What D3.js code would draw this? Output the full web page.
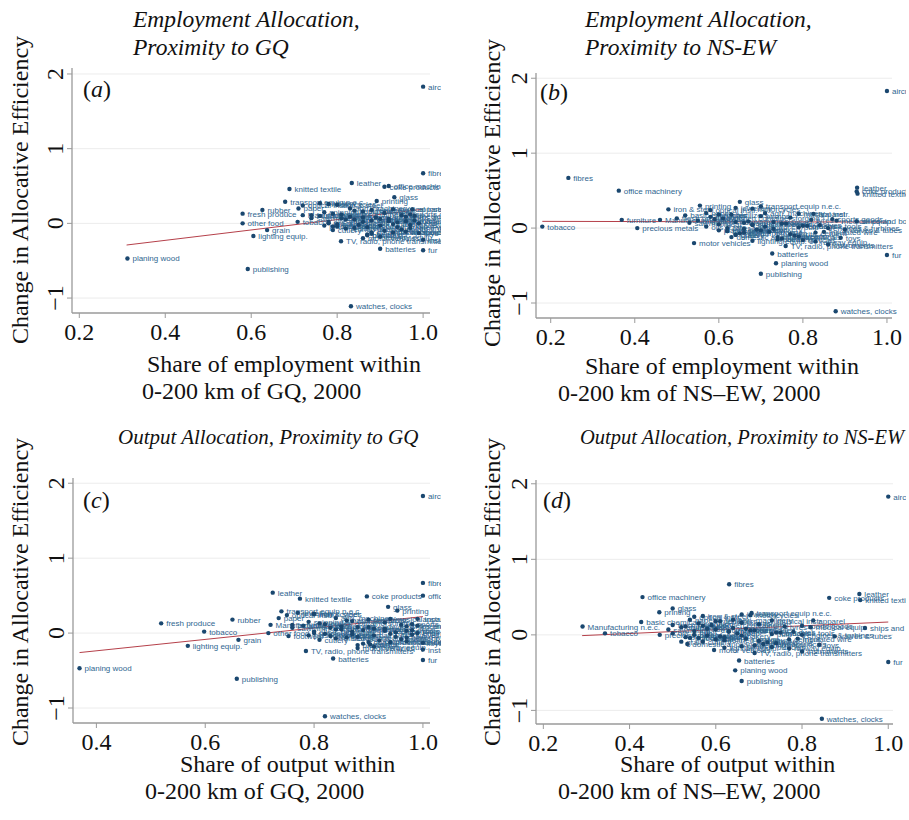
<!DOCTYPE html>
<meta charset="utf-8">
<script src="https://d3js.org/d3.v7.min.js"></script>
<style>
  body { margin: 0; background: #fff; }
  .tick-label { font-family: "Liberation Serif", "Times New Roman", serif; font-size: 24px; fill: #111; }
  .axis-title { font-family: "Liberation Serif", "Times New Roman", serif; font-size: 24px; fill: #111; }
  .panel-title { font-family: "Liberation Serif", "Times New Roman", serif; font-style: italic; fill: #111; }
  .pt-label { font-family: "Liberation Sans", Arial, sans-serif; font-size: 8px; fill: #2f6690; }
</style>
<div id="chart"></div>
<script>
// industries and the change in allocative efficiency (same y for all four panels)
const industries = [
  "aircraft", "fibres", "office machinery", "leather", "coke products", "knitted textile",
  "glass", "printing", "transport equip n.e.c.", "apparel", "fresh produce", "rubber",
  "other food", "grain", "lighting equip.", "planing wood", "publishing", "watches, clocks",
  "TV, radio, phone transmitters", "batteries", "fur", "tobacco", "iron & steel", "furniture",
  "Manufacturing n.e.c.", "precious metals", "motor vehicles", "ships and boats", "basic chemicals",
  "domestic appliances", "valves & tubes", "paints", "footwear", "instruments",
  "meat", "fish", "dairy", "oils & fats", "starch", "animal feed", "bakery", "sugar", "cocoa",
  "spirits", "beer", "soft drinks", "spinning", "weaving", "carpets", "cordage", "luggage",
  "sawmilling", "veneer", "wooden containers", "pulp", "paper", "refined petroleum", "dyes",
  "fertilizers", "plastics", "pesticides", "pharmaceuticals", "soap", "tyres", "plastic products",
  "ceramics", "cement", "structural metal", "forging", "cutlery", "engines & turbines", "pumps",
  "bearings", "machine tools", "agri. machinery", "weapons", "electric motors", "insulated wire",
  "medical equip.", "optical instr.", "bicycles", "motorcycles", "railway equip.", "sports goods",
  "toys", "jewellery", "musical instr."
];
const effChange = [
  1.83, 0.67, 0.50, 0.54, 0.49, 0.46, 0.35, 0.30, 0.29, 0.19, 0.13, 0.18,
  0.00, -0.09, -0.17, -0.47, -0.61, -1.11, -0.24, -0.34, -0.36, 0.02, 0.25, 0.11,
  0.11, 0.00, -0.20, 0.09, 0.17, -0.12, -0.02, -0.15, -0.04, -0.22,
  0.05, 0.08, -0.03, 0.02, -0.06, 0.10, -0.01, 0.04, 0.12,
  -0.08, 0.06, -0.04, 0.15, 0.09, -0.10, 0.03, -0.05,
  0.07, -0.02, 0.13, 0.01, 0.20, -0.07, 0.04,
  0.18, -0.01, 0.06, -0.12, 0.02, 0.11, -0.03,
  0.08, -0.06, 0.05, 0.14, -0.09, 0.00, 0.16,
  -0.14, 0.03, 0.20, -0.11, 0.07, -0.05,
  0.10, 0.24, -0.16, 0.26, -0.18, 0.12,
  -0.13, 0.27, 0.19
];
// share of employment within 0-200 km of GQ, 2000
const empShareGQ = [
  1.00, 1.00, 0.92, 0.834, 0.91, 0.689, 0.933, 0.892, 0.679, 0.975, 0.58, 0.626,
  0.58, 0.637, 0.605, 0.312, 0.592, 0.832, 0.809, 0.90, 1.00, 0.708, 0.80, 0.74,
  0.72, 0.78, 0.86, 0.96, 0.84, 0.88, 0.97, 0.87, 0.79, 1.00,
  0.82, 0.86, 0.90, 0.78, 0.84, 0.76, 0.93, 0.88, 0.81,
  0.95, 0.92, 0.80, 0.77, 0.83, 0.91, 0.96, 0.87,
  0.74, 0.85, 0.79, 0.94, 0.71, 0.82, 0.98,
  0.88, 0.80, 0.90, 0.93, 0.86, 0.95, 0.77,
  0.89, 0.97, 0.84, 0.91, 0.79, 0.99, 0.86,
  0.88, 0.92, 0.83, 0.96, 0.81, 0.94,
  0.98, 0.72, 0.87, 0.78, 0.90, 0.97,
  0.99, 0.76, 0.93
];
// share of employment within 0-200 km of NS-EW, 2000
const empShareNSEW = [
  1.00, 0.242, 0.362, 0.929, 0.928, 0.93, 0.65, 0.555, 0.70, 0.825, 0.50, 0.60,
  0.62, 0.64, 0.68, 0.736, 0.70, 0.878, 0.759, 0.727, 1.00, 0.18, 0.48, 0.369,
  0.46, 0.406, 0.541, 0.928, 0.52, 0.63, 0.90, 0.74, 0.62, 0.86,
  0.60, 0.64, 0.70, 0.57, 0.66, 0.55, 0.73, 0.68, 0.59,
  0.77, 0.75, 0.62, 0.58, 0.67, 0.78, 0.80, 0.72,
  0.53, 0.69, 0.61, 0.79, 0.57, 0.65, 0.84,
  0.63, 0.66, 0.76, 0.74, 0.71, 0.82, 0.60,
  0.73, 0.83, 0.68, 0.77, 0.64, 0.86, 0.70,
  0.75, 0.81, 0.71, 0.79, 0.66, 0.85,
  0.88, 0.58, 0.80, 0.68, 0.83, 0.87,
  0.89, 0.64, 0.79
];
// share of output within 0-200 km of GQ, 2000
const outShareGQ = [
  1.00, 1.00, 1.00, 0.724, 0.897, 0.774, 0.936, 0.953, 0.74, 0.99, 0.519, 0.65,
  0.716, 0.661, 0.568, 0.369, 0.658, 0.82, 0.785, 0.835, 1.00, 0.598, 0.80, 0.76,
  0.72, 0.80, 0.88, 0.97, 0.86, 0.90, 0.98, 0.903, 0.753, 1.00,
  0.84, 0.88, 0.91, 0.80, 0.86, 0.78, 0.94, 0.89, 0.82,
  0.96, 0.93, 0.83, 0.79, 0.85, 0.92, 0.97, 0.88,
  0.76, 0.87, 0.81, 0.95, 0.735, 0.84, 0.98,
  0.90, 0.82, 0.91, 0.94, 0.87, 0.96, 0.79,
  0.90, 0.97, 0.85, 0.93, 0.81, 0.99, 0.87,
  0.89, 0.93, 0.84, 0.97, 0.83, 0.95,
  0.99, 0.75, 0.88, 0.80, 0.91, 0.98,
  1.00, 0.77, 0.94
];
// share of output within 0-200 km of NS-EW, 2000
const outShareNSEW = [
  1.00, 0.631, 0.43, 0.933, 0.863, 0.935, 0.50, 0.469, 0.683, 0.826, 0.50, 0.60,
  0.55, 0.52, 0.62, 0.645, 0.66, 0.846, 0.69, 0.654, 1.00, 0.343, 0.57, 0.53,
  0.291, 0.47, 0.596, 0.946, 0.427, 0.534, 0.876, 0.66, 0.56, 0.80,
  0.55, 0.58, 0.62, 0.50, 0.60, 0.52, 0.66, 0.63, 0.57,
  0.70, 0.68, 0.54, 0.56, 0.64, 0.72, 0.74, 0.67,
  0.49, 0.61, 0.59, 0.73, 0.54, 0.62, 0.78,
  0.61, 0.58, 0.69, 0.71, 0.65, 0.76, 0.53,
  0.67, 0.77, 0.63, 0.70, 0.57, 0.80, 0.66,
  0.69, 0.75, 0.64, 0.74, 0.60, 0.79,
  0.82, 0.55, 0.73, 0.68, 0.77, 0.80,
  0.84, 0.66, 0.73
];
// fitted lines, end points
const fitEmpGQ = [[0.31, -0.29], [1.0, 0.19]];
const fitEmpNSEW = [[0.18, 0.09], [1.0, 0.08]];
const fitOutGQ = [[0.369, -0.26], [1.0, 0.22]];
const fitOutNSEW = [[0.29, -0.01], [1.0, 0.17]];

const xTicksA = [0.2, 0.4, 0.6, 0.8, 1.0];
const xTicksC = [0.4, 0.6, 0.8, 1.0];
const yTicks = [-1, 0, 1, 2];

const panels = [
  { id: "a", xs: empShareGQ, fit: fitEmpGQ, xTicks: xTicksA,
    xr: [72, 430], xd: [0.183, 1.016], yr: [313, 68], yd: [-1.2, 2.08], clipR: 441,
    title: ["Employment Allocation,", "Proximity to GQ"], titleX: 133, titleY: [27, 55], titleSize: 23.5,
    xt: [["Share of employment within", 147], ["0-200 km of GQ, 2000", 142]], xtY: 372,
    yTitleX: 28, yTitleY: 190, letter: [83, 97] },
  { id: "b", xs: empShareNSEW, fit: fitEmpNSEW, xTicks: xTicksA,
    xr: [536, 892], xd: [0.165, 1.012], yr: [318, 73], yd: [-1.2, 2.07], clipR: 906,
    title: ["Employment Allocation,", "Proximity to NS-EW"], titleX: 585, titleY: [27, 55], titleSize: 23.5,
    xt: [["Share of employment within", 585], ["0-200 km of NS\u2013EW, 2000", 558]], xtY: 374,
    yTitleX: 500, yTitleY: 193, letter: [540, 100] },
  { id: "c", xs: outShareGQ, fit: fitOutGQ, xTicks: xTicksC,
    xr: [73, 430], xd: [0.357, 1.013], yr: [723, 478], yd: [-1.2, 2.07], clipR: 441,
    title: ["Output Allocation, Proximity to GQ"], titleX: 118, titleY: [444], titleSize: 21,
    xt: [["Share of output within", 180], ["0-200 km of GQ, 2000", 145]], xtY: 772,
    yTitleX: 28, yTitleY: 592, letter: [83, 508] },
  { id: "d", xs: outShareNSEW, fit: fitOutNSEW, xTicks: xTicksA,
    xr: [536, 893], xd: [0.183, 1.011], yr: [724, 480], yd: [-1.18, 2.05], clipR: 906,
    title: ["Output Allocation, Proximity to NS-EW"], titleX: 580, titleY: [444], titleSize: 20.5,
    xt: [["Share of output within", 620], ["0-200 km of NS\u2013EW, 2000", 558]], xtY: 772,
    yTitleX: 500, yTitleY: 592, letter: [543, 508] }
];

const svg = d3.select("#chart").append("svg")
  .attr("width", 909).attr("height", 820);

panels.forEach(function(p) {
  const x = d3.scaleLinear().domain(p.xd).range(p.xr);
  const y = d3.scaleLinear().domain(p.yd).range(p.yr);
  const g = svg.append("g");

  // grid lines
  g.selectAll(".grid").data(yTicks).enter().append("line")
    .attr("x1", p.xr[0]).attr("x2", p.xr[1])
    .attr("y1", d => y(d)).attr("y2", d => y(d))
    .attr("stroke", "#ececec").attr("stroke-width", 1);

  // axes
  g.append("line").attr("x1", p.xr[0]).attr("x2", p.xr[0])
    .attr("y1", p.yr[0]).attr("y2", p.yr[1]).attr("stroke", "#9a9a9a").attr("stroke-width", 1.3);
  g.append("line").attr("x1", p.xr[0]).attr("x2", p.xr[1])
    .attr("y1", p.yr[0]).attr("y2", p.yr[0]).attr("stroke", "#9a9a9a").attr("stroke-width", 1.3);

  g.selectAll(".xt").data(p.xTicks).enter().append("line")
    .attr("x1", d => x(d)).attr("x2", d => x(d))
    .attr("y1", p.yr[0]).attr("y2", p.yr[0] + 5).attr("stroke", "#9a9a9a");
  g.selectAll(".xtl").data(p.xTicks).enter().append("text")
    .attr("class", "tick-label")
    .attr("x", d => x(d)).attr("y", p.yr[0] + 27)
    .attr("text-anchor", "middle")
    .text(d => d3.format(".1f")(d));

  g.selectAll(".yt").data(yTicks).enter().append("line")
    .attr("x1", p.xr[0] - 5).attr("x2", p.xr[0])
    .attr("y1", d => y(d)).attr("y2", d => y(d)).attr("stroke", "#9a9a9a");
  g.selectAll(".ytl").data(yTicks).enter().append("text")
    .attr("class", "tick-label")
    .attr("transform", d => "translate(" + (p.xr[0] - 9) + "," + y(d) + ") rotate(-90)")
    .attr("text-anchor", "middle")
    .text(d => d < 0 ? "\u2212" + Math.abs(d) : d);

  // clip for marks and labels
  svg.append("clipPath").attr("id", "clip-" + p.id)
    .append("rect").attr("x", p.xr[0]).attr("y", p.yr[1] - 5)
    .attr("width", p.clipR - p.xr[0]).attr("height", p.yr[0] - p.yr[1] + 4);
  const plot = g.append("g").attr("clip-path", "url(#clip-" + p.id + ")");

  // fit line
  plot.append("line")
    .attr("x1", x(p.fit[0][0])).attr("y1", y(p.fit[0][1]))
    .attr("x2", x(p.fit[1][0])).attr("y2", y(p.fit[1][1]))
    .attr("stroke", "#b5404a").attr("stroke-width", 1);

  const rows = industries.map((name, i) => ({ name: name, vx: p.xs[i], vy: effChange[i] }));

  plot.selectAll(".pt-label").data(rows).enter().append("text")
    .attr("class", "pt-label")
    .attr("x", d => x(d.vx) + 5).attr("y", d => y(d.vy) + 3)
    .text(d => d.name);

  plot.selectAll(".pt").data(rows).enter().append("circle")
    .attr("cx", d => x(d.vx)).attr("cy", d => y(d.vy))
    .attr("r", 2.2).attr("fill", "#1a476f");

  // panel letter
  const lt = g.append("text").attr("class", "tick-label")
    .attr("x", p.letter[0]).attr("y", p.letter[1]);
  lt.append("tspan").text("(");
  lt.append("tspan").style("font-style", "italic").text(p.id);
  lt.append("tspan").text(")");

  // titles
  p.title.forEach((t, i) => {
    g.append("text").attr("class", "panel-title")
      .style("font-size", p.titleSize + "px")
      .attr("x", p.titleX).attr("y", p.titleY[i]).text(t);
  });
  p.xt.forEach((t, i) => {
    g.append("text").attr("class", "axis-title")
      .attr("x", t[1]).attr("y", p.xtY + i * 27).text(t[0]);
  });
  g.append("text").attr("class", "axis-title")
    .attr("transform", "translate(" + p.yTitleX + "," + p.yTitleY + ") rotate(-90)")
    .attr("text-anchor", "middle")
    .text("Change in Allocative Efficiency");
});
</script>
